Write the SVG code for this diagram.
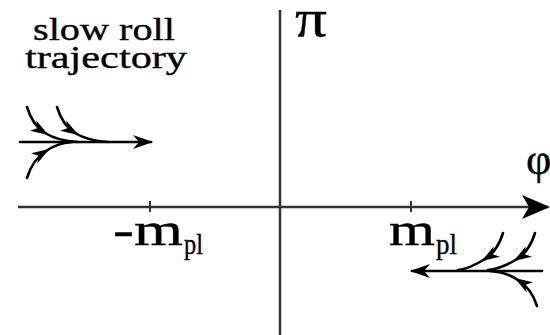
<svg xmlns="http://www.w3.org/2000/svg" width="550" height="335" viewBox="0 0 550 335">
<style>
.axis{stroke:#333;stroke-width:2.5;fill:none}
.tick{stroke:#333;stroke-width:2;fill:none}
.traj{stroke:#000;stroke-width:2.6;fill:none;stroke-linecap:round}
.lbl{font-family:"Liberation Serif","DejaVu Serif",serif;fill:#000;stroke:#000;stroke-width:0.35}
</style>
<defs>
<marker id="small" viewBox="0 0 18 12" refX="14" refY="6" markerWidth="18" markerHeight="12" markerUnits="userSpaceOnUse" orient="auto">
<path d="M0,0 L18,6 L0,12 L5,6 Z" fill="#000"/>
</marker>
<marker id="mid" viewBox="0 0 20 14" refX="18" refY="7" markerWidth="20" markerHeight="14" markerUnits="userSpaceOnUse" orient="auto">
<path d="M0,0 L20,7 L0,14 L6,7 Z" fill="#000"/>
</marker>
<marker id="big" viewBox="0 0 28 24" refX="26" refY="12" markerWidth="28" markerHeight="24" markerUnits="userSpaceOnUse" orient="auto">
<path d="M0,0 L28,12 L0,24 L7,12 Z" fill="#000"/>
</marker>
</defs>
<g id="axes">
<path class="axis" d="M18,207 L548,207" marker-end="url(#big)"/>
<path class="axis" d="M280,10 L280,335"/>
<path class="tick" d="M150,201 L150,212"/>
<path class="tick" d="M411,201 L411,212"/>
</g>
<g id="labels">
<text class="lbl" x="33" y="40" font-size="31" textLength="142" lengthAdjust="spacingAndGlyphs">slow roll</text>
<text class="lbl" x="25" y="68" font-size="31" textLength="162" lengthAdjust="spacingAndGlyphs">trajectory</text>
<text class="lbl" x="295" y="36" font-size="52" textLength="32" lengthAdjust="spacingAndGlyphs">π</text>
<text class="lbl" x="526" y="174" font-size="44">φ</text>
<text class="lbl" x="113" y="245" font-size="46" textLength="70" lengthAdjust="spacingAndGlyphs">-m</text>
<text class="lbl" x="184" y="254" font-size="30" textLength="19" lengthAdjust="spacingAndGlyphs">pl</text>
<text class="lbl" x="389" y="245" font-size="46" textLength="46" lengthAdjust="spacingAndGlyphs">m</text>
<text class="lbl" x="436" y="254" font-size="30" textLength="21" lengthAdjust="spacingAndGlyphs">pl</text>
</g>
<g id="connectors">
<g id="left-trajectory">
<path class="traj" d="M20,142 L151,142" marker-end="url(#mid)"/>
<path class="traj" d="M27,107 C31,120 37,128 45,133" marker-end="url(#small)"/>
<path class="traj" d="M45,133 C53,138 62,141 78,142"/>
<path class="traj" d="M57,107 C61,120 67,128 75,133" marker-end="url(#small)"/>
<path class="traj" d="M75,133 C83,138 92,141 108,142"/>
<path class="traj" d="M27,178 C31,165 38,156 46,151" marker-end="url(#small)"/>
<path class="traj" d="M46,151 C53,146 60,143 72,142"/>
</g>
<g id="right-trajectory">
<path class="traj" d="M542,271 L412,271" marker-end="url(#mid)"/>
<path class="traj" d="M503,233 C499,246 493,254 485,259" marker-end="url(#small)"/>
<path class="traj" d="M485,259 C477,264 468,269 458,270"/>
<path class="traj" d="M535,233 C531,246 525,254 517,259" marker-end="url(#small)"/>
<path class="traj" d="M517,259 C509,264 500,269 488,270"/>
<path class="traj" d="M537,306 C533,293 526,285 518,280" marker-end="url(#small)"/>
<path class="traj" d="M518,280 C511,275 503,272 490,271"/>
</g>
</g>
</svg>
